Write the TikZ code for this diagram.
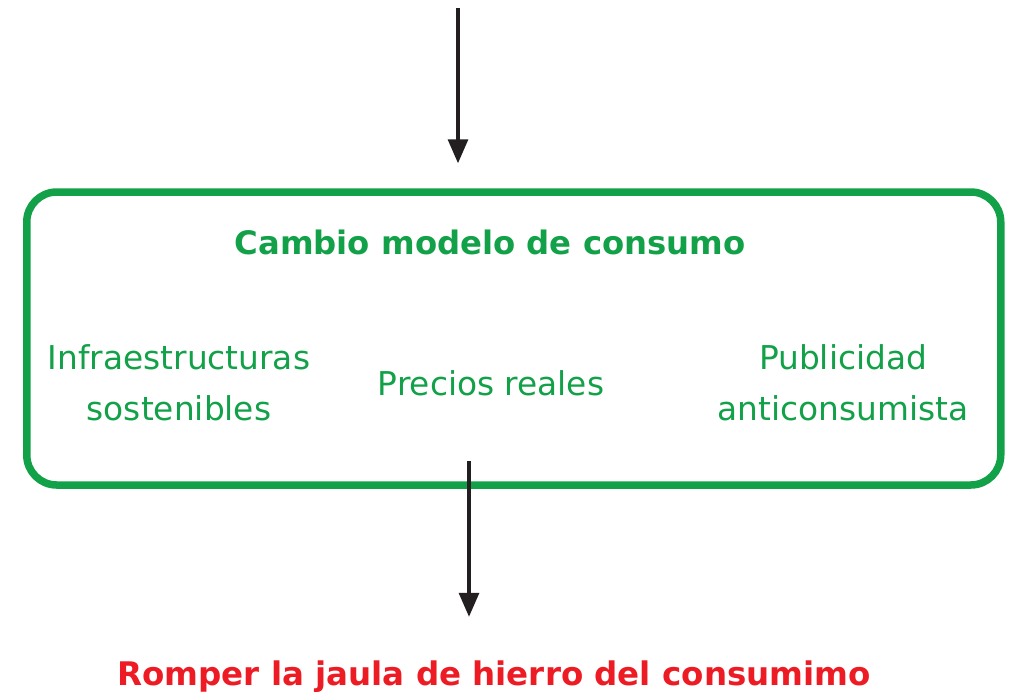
\documentclass[tikz,border=0pt]{standalone}
\usepackage{fontspec}
\setmainfont{DejaVu Sans}
\usetikzlibrary{arrows.meta, positioning}
\definecolor{consgreen}{RGB}{18,161,72}
\definecolor{consred}{RGB}{237,28,36}
\definecolor{arrowgray}{RGB}{35,31,32}

\begin{document}
\begin{tikzpicture}[x=1pt, y=1pt,
        frame/.style={rectangle, draw=consgreen, line width=7.5pt, rounded corners=30pt, minimum width=974pt, minimum height=293pt},
        item/.style={text=consgreen, align=center, font=\fontsize{32.8}{51}\selectfont},
        arrow/.style={-{Triangle[length=24pt, width=20pt]}, line width=3.2pt, draw=arrowgray}
    ]
        \useasboundingbox (0,0) rectangle (1011,-691);

        % Green box with its title and the three measures
        \node[frame] (box) at (513.75,-338.5) {};
        \node[text=consgreen, anchor=base, font=\fontsize{32.3}{38}\bfseries] (title) at (490,-254) {Cambio modelo de consumo};
        \node[item] (infra) at (179,-383) {Infraestructuras\\sostenibles};
        \node[item] (prices) at (491,-383) {Precios reales};
        \node[item] (ads) at (843,-383) {Publicidad\\anticonsumista};

        % Result below the box
        \node[text=consred, anchor=base, font=\fontsize{32.5}{38}\bfseries] (result) at (494,-685) {Romper la jaula de hierro del consumimo};

        % Arrows in and out
        \coordinate (top) at (458,-8);
        \coordinate (inner) at (469,-461);
        \draw[arrow, shorten >=25pt] (top) -- (top |- box.north);
        \draw[arrow, shorten >=40pt] (inner) -- (inner |- result.north);
    \end{tikzpicture}
\end{document}
